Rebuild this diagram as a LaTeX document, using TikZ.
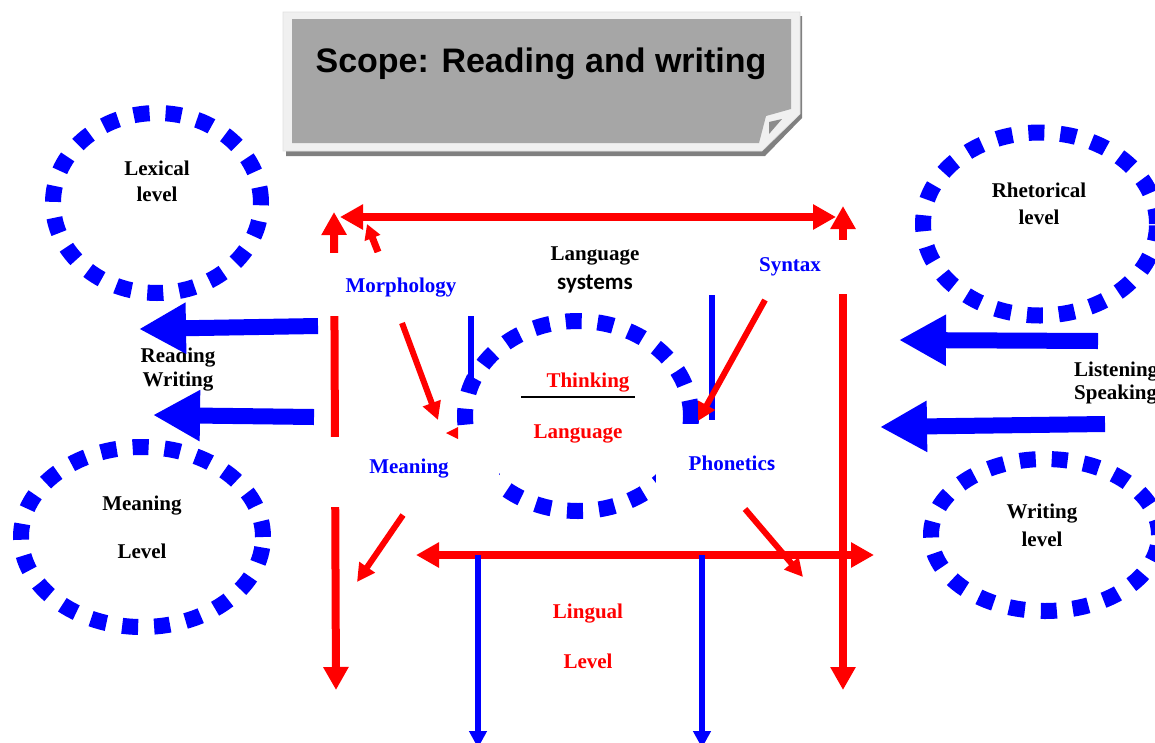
\documentclass[tikz,border=0pt]{standalone}
\usepackage{fontspec}
\setmainfont{Liberation Serif}
\newfontfamily\titlefont{Liberation Sans}
\newfontfamily\carl{Carlito}
\usetikzlibrary{arrows.meta,shapes.geometric}
\definecolor{tgray}{HTML}{A6A6A6}
\definecolor{tborder}{HTML}{F0F0F0}
\definecolor{tshadow}{HTML}{808080}
\definecolor{tfold}{HTML}{8C8C8C}
\begin{document}
\begin{tikzpicture}[x=1pt,y=-1pt,
  redln/.style={draw=red,line width=8pt,>={Triangle[length=23pt,width=24pt]}},
  redthin/.style={draw=red,line width=6pt,-{Triangle[length=18pt,width=18pt]}},
  bluevert/.style={draw=blue,line width=6pt},
  bluedown/.style={draw=blue,line width=6pt,-{Triangle[length=17pt,width=17pt]}},
  bigblue/.style={draw=blue,line width=16pt,-{Triangle[length=47pt,width=48pt]}},
  dotell/.style={ellipse,draw=blue,line width=16pt,dash pattern=on 16pt off 16pt,inner sep=0pt},
  cover/.style={fill=white,inner sep=0pt},
  lbl/.style={font=\fontsize{21}{25}\selectfont\bfseries,anchor=base,inner sep=0pt},
]
\useasboundingbox (0,0) rectangle (1155,742);

% ---- title box ----
\fill[tshadow] (286,16) -- (802,16) -- (802,118) -- (765,156) -- (286,156) -- cycle;
\filldraw[fill=tborder,draw=black!12,line width=0.6pt] (283,12) -- (800,12) -- (800,114) -- (762,151) -- (283,151) -- cycle;
\fill[tgray] (292,19) -- (791,19) -- (791,109) -- (766,116) -- (759,143) -- (292,143) -- cycle;
\fill[tfold] (769,122) -- (782,119) -- (769,134) -- cycle;
\node[font=\titlefont\fontsize{34}{40}\selectfont\bfseries,anchor=base,inner sep=0pt] (title) at (541,72) {Scope: Reading and writing};

% ---- red frame ----
\coordinate (tl) at (340,217); \coordinate (tr) at (836,217);
\draw[redln,<->] (tl) -- (tr);
\coordinate (lvb) at (336,690); \coordinate (lvt) at (334,212);
\draw[redln,<->] (lvb) -- (lvt);
\coordinate (rvb) at (843,690); \coordinate (rvt) at (843,206);
\draw[redln,<->] (rvb) -- (rvt);
\coordinate (bl) at (416,555); \coordinate (br) at (874,555);
\draw[redln,<->] (bl) -- (br);

% ---- blue verticals ----
\coordinate (bd1a) at (478,555); \coordinate (bd1b) at (478,748);
\coordinate (bd2a) at (702,555); \coordinate (bd2b) at (702,748);
\draw[bluedown] (bd1a) -- (bd1b);
\draw[bluedown] (bd2a) -- (bd2b);
\coordinate (bu1a) at (471,314); \coordinate (bu1b) at (471,405);
\coordinate (bu2a) at (712,295); \coordinate (bu2b) at (712,420);
\draw[bluevert] (bu1a) -- (bu1b);
\draw[bluevert] (bu2a) -- (bu2b);

% small up-left arrow
\coordinate (sa1) at (378,252); \coordinate (sa2) at (367,224);
\draw[red,line width=7pt,-{Triangle[length=15pt,width=16pt]}] (sa1) -- (sa2);

% ---- central ellipse ----
\node[dotell,fill=white,minimum width=226pt,minimum height=190pt] (core) at (578,416) {};
\draw[black,line width=2pt] (521,397) -- (635,397);

% ---- diagonal red arrows ----
\coordinate (d1a) at (402,323); \coordinate (d1b) at (438,420);
\draw[redthin] (d1a) -- (d1b);
\coordinate (d2a) at (765,300); \coordinate (d2b) at (698,421);
\draw[redthin] (d2a) -- (d2b);
\coordinate (d3a) at (403,515); \coordinate (d3b) at (357,582);
\draw[redthin] (d3a) -- (d3b);
\coordinate (d4a) at (745,509); \coordinate (d4b) at (803,577);
\draw[redthin] (d4a) -- (d4b);

% ---- white label boxes ----
\node[cover,minimum width=155pt,minimum height=63pt] (morphbox) at (402.5,284.5) {};
\node[cover,minimum width=160pt,minimum height=54pt] (synbox) at (788,267) {};
\node[cover,minimum width=177pt,minimum height=70pt] (meanbox) at (410.5,472) {};
\node[cover,minimum width=144pt,minimum height=81pt] (phonbox) at (728,464.5) {};
\fill[red] (446,433) -- (458,427) -- (458,439) -- cycle;

% ---- labels ----
\node[lbl,text=blue] (morph) at (401,292) {Morphology};
\node[lbl,text=blue] (syn) at (790,271) {Syntax};
\node[lbl,text=blue] (mean) at (409,473) {Meaning};
\node[lbl,text=blue] (phon) at (732,470) {Phonetic{\carl s}};
\node[lbl] (lang1) at (595,260) {Language};
\node[lbl,font=\carl\fontsize{23}{26}\selectfont\bfseries] (lang2) at (595,289) {systems};
\node[lbl,text=red] (think) at (588,387) {Thinking};
\node[lbl,text=red] (lang3) at (578,438) {Language};
\node[lbl,text=red] (ling1) at (588,618) {Lingual};
\node[lbl,text=red] (ling2) at (588,668) {Level};

% ---- side ellipses ----
\node[dotell,minimum width=208pt,minimum height=180pt] (lexell) at (157,203) {};
\node[dotell,minimum width=242pt,minimum height=180pt] (meanell) at (142,537) {};
\node[dotell,minimum width=234pt,minimum height=183pt] (rhetell) at (1040,224) {};
\node[dotell,minimum width=228pt,minimum height=152pt] (writell) at (1045,535) {};

\node[lbl] (lex1) at (157,175) {Lexical};
\node[lbl] (lex2) at (157,201) {level};
\node[lbl] (ml1) at (142,510) {Meaning};
\node[lbl] (ml2) at (142,558) {Level};
\node[lbl] (rh1) at (1039,197) {Rhetorical};
\node[lbl] (rh2) at (1039,224) {level};
\node[lbl] (wl1) at (1042,518) {Writing};
\node[lbl] (wl2) at (1042,546) {level};
\node[lbl] (rw1) at (178,362) {Reading};
\node[lbl] (rw2) at (178,386) {Writing};
\node[lbl,anchor=base west] (ls1) at (1074,376) {Listening};
\node[lbl,anchor=base west] (ls2) at (1074,399) {Speaking};

% ---- big blue arrows ----
\coordinate (ba1) at (318,326); \coordinate (ba1t) at (139,329);
\coordinate (ba2) at (314,417); \coordinate (ba2t) at (153,415);
\coordinate (ba3) at (1098,341); \coordinate (ba3t) at (899,340);
\coordinate (ba4) at (1105,424); \coordinate (ba4t) at (880,427);
\draw[bigblue] (ba1) -- (ba1t);
\draw[bigblue] (ba2) -- (ba2t);
\draw[bigblue] (ba3) -- (ba3t);
\draw[bigblue] (ba4) -- (ba4t);
\end{tikzpicture}
\end{document}
